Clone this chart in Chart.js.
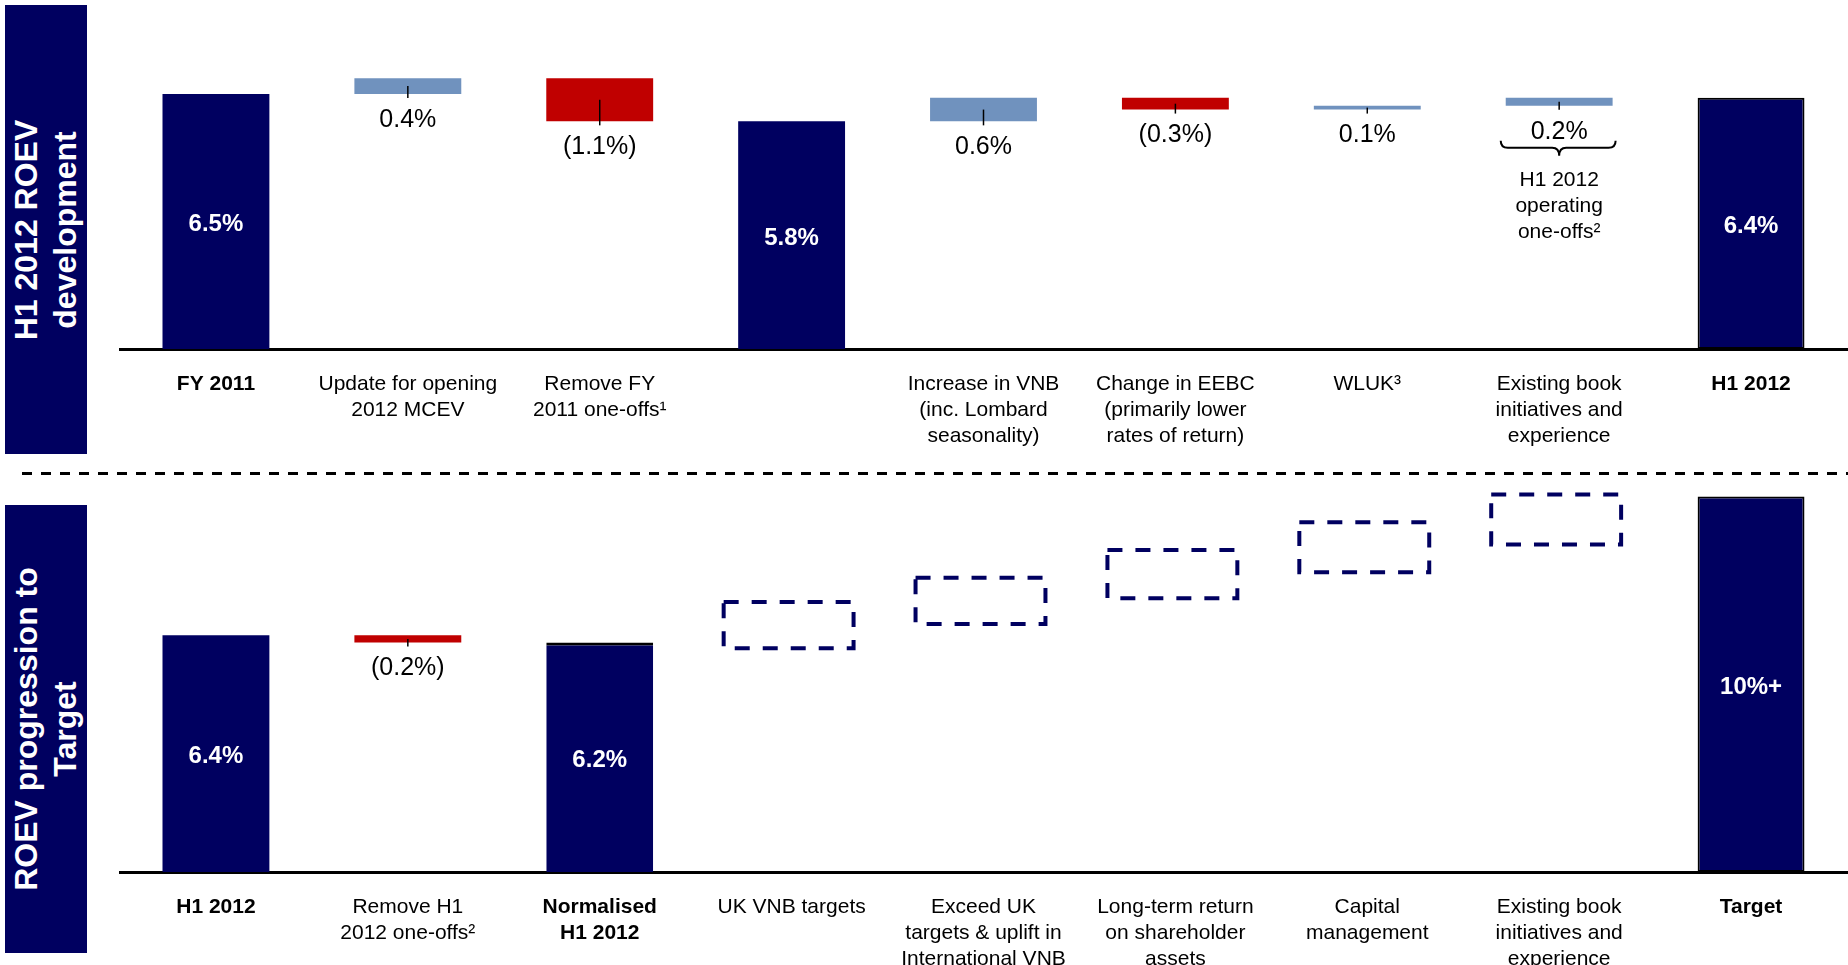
<!DOCTYPE html>
<html>
<head>
<meta charset="utf-8">
<title>ROEV development</title>
<script src="https://cdn.jsdelivr.net/npm/chart.js@4.4.1/dist/chart.umd.min.js"></script>
<style>
  html, body { margin: 0; padding: 0; background: #fff; }
  body { width: 1848px; height: 965px; position: relative; overflow: hidden; font-family: 'Liberation Sans', Arial, sans-serif; }
  .side { position: absolute; left: 5px; width: 82px; background: #000060; }
  .side span { position: absolute; left: 50%; top: 50%; width: 460px; transform: translate(-50%, -50%) rotate(-90deg);
    text-align: center; color: #fff; font-weight: bold; font-size: 32px; line-height: 39px; white-space: nowrap; }
  .box { position: absolute; left: 0; width: 1848px; }
  #sep { position: absolute; left: 22px; top: 472px; width: 1826px; height: 3px;
    background: repeating-linear-gradient(90deg, #000 0 10px, transparent 10px 19px); }
</style>
</head>
<body>
<div class="side" style="top:5px;height:449px"><span>H1 2012 ROEV<br>development</span></div>
<div class="side" style="top:505px;height:448px"><span>ROEV progression to<br>Target</span></div>
<div id="sep"></div>
<div class="box" style="top:0;height:465px"><canvas id="chartTop"></canvas></div>
<div class="box" style="top:460px;height:505px"><canvas id="chartBottom"></canvas></div>

<script>
const FONT = "'Liberation Sans', Arial, sans-serif";
const NAVY = '#000060', BLUE = '#7092be', RED = '#c00000';

// --- H1 2012 ROEV development ---
const topCategories = [
    ['FY 2011'],
    ['Update for opening', '2012 MCEV'],
    ['Remove FY', '2011 one-offs¹'],
    [''],
    ['Increase in VNB', '(inc. Lombard', 'seasonality)'],
    ['Change in EEBC', '(primarily lower', 'rates of return)'],
    ['WLUK³'],
    ['Existing book', 'initiatives and', 'experience'],
    ['H1 2012']
];
const topChanges = [6.5, 0.4, -1.1, 5.8, 0.6, -0.3, 0.1, 0.2, 6.4];
const topIsTotal = [true, false, false, true, false, false, false, false, true];
const topValueText = ['6.5%', '0.4%', '(1.1%)', '5.8%', '0.6%', '(0.3%)', '0.1%', '0.2%', '6.4%'];
const topNoteLines = ['H1 2012', 'operating', 'one-offs²'];

// --- ROEV progression to Target ---
const bottomCategories = [
    ['H1 2012'],
    ['Remove H1', '2012 one-offs²'],
    ['Normalised', 'H1 2012'],
    ['UK VNB targets'],
    ['Exceed UK', 'targets & uplift in', 'International VNB'],
    ['Long-term return', 'on shareholder', 'assets'],
    ['Capital', 'management'],
    ['Existing book', 'initiatives and', 'experience'],
    ['Target']
];
const bottomChanges = [6.4, -0.2, 6.2, null, null, null, null, null, 10.15];
const bottomIsTotal = [true, false, true, false, false, false, false, false, true];
const bottomValueText = ['6.4%', '(0.2%)', '6.2%', '', '', '', '', '', '10%+'];
const targetBoxLow = [null, null, null, 6.05, 6.7, 7.4, 8.1, 8.85, null];
const targetBoxHigh = [null, null, null, 7.3, 7.95, 8.7, 9.45, 10.2, null];

Chart.defaults.font.family = FONT;

function buildWaterfall(changes, isTotal) {
    let run = 0;
    return changes.map((v, i) => {
        if (v === null) return null;
        if (isTotal[i]) { run = v; return [0, v]; }
        const start = run;
        run += v;
        return [start, run];
    });
}

function barColours(changes, isTotal) {
    return changes.map((v, i) => isTotal[i] ? NAVY : (v > 0 ? BLUE : RED));
}

// labels, connectors, dashed target boxes and the brace note
function makeLabelPlugin(valueText, isTotal, note) {
    return {
        id: 'waterfallLabels',
        afterDatasetsDraw(chart) {
            const ctx = chart.ctx;
            ctx.save();
            ctx.textAlign = 'center';
            ctx.textBaseline = 'middle';

            chart.getDatasetMeta(0).data.forEach((bar, i) => {
                const text = valueText[i];
                if (!text) return;
                const p = bar.getProps(['x', 'y', 'base'], true);
                const top = Math.min(p.y, p.base), bottom = Math.max(p.y, p.base);
                if (isTotal[i]) {
                    ctx.fillStyle = '#fff';
                    ctx.font = 'bold 24px ' + FONT;
                    ctx.fillText(text, p.x, (top + bottom) / 2 + 3);
                } else {
                    ctx.strokeStyle = '#000';
                    ctx.lineWidth = 1.5;
                    ctx.beginPath();
                    ctx.moveTo(p.x, (top + bottom) / 2);
                    ctx.lineTo(p.x, bottom + 4);
                    ctx.stroke();
                    ctx.fillStyle = '#000';
                    ctx.font = '25px ' + FONT;
                    ctx.fillText(text, p.x, bottom + 26);
                }
            });

            if (chart.data.datasets.length > 1) {
                const ds = chart.data.datasets[1];
                ctx.strokeStyle = NAVY;
                ctx.lineWidth = 4;
                ctx.setLineDash([15, 13]);
                chart.getDatasetMeta(1).data.forEach((bar, i) => {
                    if (ds.data[i] === null) return;
                    const p = bar.getProps(['x', 'y', 'base', 'width'], true);
                    const top = Math.min(p.y, p.base), bottom = Math.max(p.y, p.base);
                    ctx.strokeRect(p.x - p.width / 2 - 3, top, p.width, bottom - top);
                });
                ctx.setLineDash([]);
            }

            if (note) {
                const p = chart.getDatasetMeta(0).data[note.index].getProps(['x', 'y', 'base', 'width'], true);
                const bottom = Math.max(p.y, p.base);
                const L = p.x - p.width / 2 - 5, R = p.x + p.width / 2 + 3, mid = p.x;
                const yTop = bottom + 35, yH = bottom + 42, yTip = bottom + 50, r = 7;
                ctx.strokeStyle = '#000';
                ctx.lineWidth = 2;
                ctx.beginPath();
                ctx.moveTo(L, yTop);
                ctx.quadraticCurveTo(L, yH, L + r, yH);
                ctx.lineTo(mid - r, yH);
                ctx.quadraticCurveTo(mid, yH, mid, yTip);
                ctx.quadraticCurveTo(mid, yH, mid + r, yH);
                ctx.lineTo(R - r, yH);
                ctx.quadraticCurveTo(R, yH, R, yTop);
                ctx.stroke();
                ctx.fillStyle = '#000';
                ctx.font = '21px ' + FONT;
                note.lines.forEach((line, k) => ctx.fillText(line, mid, bottom + 75 + k * 26));
            }
            ctx.restore();
        }
    };
}

function xAxis(boldIdx, pad, axisHeight) {
    return {
        grid: { display: false, drawTicks: false },
        border: { display: true, color: '#000', width: 3 },
        ticks: {
            autoSkip: false, maxRotation: 0, minRotation: 0, padding: pad, color: '#000',
            font: (c) => ({ family: FONT, size: 21, lineHeight: 1.24, weight: boldIdx.includes(c.index) ? 'bold' : 'normal' })
        },
        afterFit: (s) => { s.height = axisHeight; }
    };
}

const commonPlugins = { legend: { display: false }, tooltip: { enabled: false } };

new Chart(document.getElementById('chartTop'), {
    type: 'bar',
    data: {
        labels: topCategories,
        datasets: [{
            data: buildWaterfall(topChanges, topIsTotal),
            backgroundColor: barColours(topChanges, topIsTotal),
            borderColor: '#000',
            borderWidth: (c) => c.dataIndex === 8 ? 2 : 0,
            borderSkipped: false,
            barPercentage: 0.557,
            categoryPercentage: 1
        }]
    },
    options: {
        responsive: true,
        maintainAspectRatio: false,
        animation: false,
        layout: { padding: { left: 120, right: 1, top: 35, bottom: 0 } },
        scales: {
            x: xAxis([0, 8], 22, 116),
            y: { display: false, min: 0, max: 8 }
        },
        plugins: commonPlugins
    },
    plugins: [makeLabelPlugin(topValueText, topIsTotal, { index: 7, lines: topNoteLines })]
});

new Chart(document.getElementById('chartBottom'), {
    type: 'bar',
    data: {
        labels: bottomCategories,
        datasets: [{
            data: buildWaterfall(bottomChanges, bottomIsTotal),
            backgroundColor: barColours(bottomChanges, bottomIsTotal),
            borderColor: '#000',
            borderWidth: (c) => c.dataIndex === 8 ? 2 : (c.dataIndex === 2 ? { top: 3, left: 0, right: 0, bottom: 0 } : 0),
            borderSkipped: false,
            barPercentage: 0.557,
            categoryPercentage: 1,
            grouped: false
        }, {
            data: targetBoxLow.map((lo, i) => lo === null ? null : [lo, targetBoxHigh[i]]),
            backgroundColor: 'rgba(0,0,0,0)',
            borderWidth: 0,
            barPercentage: 0.677,
            categoryPercentage: 1,
            grouped: false
        }]
    },
    options: {
        responsive: true,
        maintainAspectRatio: false,
        animation: false,
        layout: { padding: { left: 120, right: 1, top: 5, bottom: 0 } },
        scales: {
            x: xAxis([0, 2, 8], 22, 93),
            y: { display: false, min: 0, max: 11 }
        },
        plugins: commonPlugins
    },
    plugins: [makeLabelPlugin(bottomValueText, bottomIsTotal, null)]
});
</script>
</body>
</html>
